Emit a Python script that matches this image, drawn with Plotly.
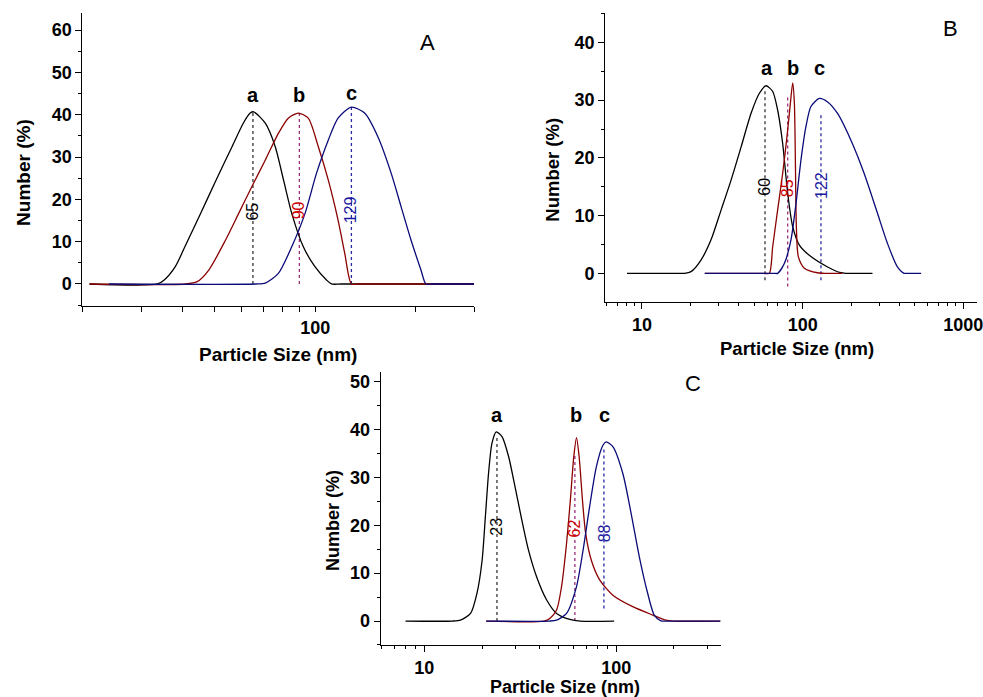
import numpy as np
import plotly.graph_objects as go

# ---------------- data ----------------
# Panel A
A_a_x = [21, 33.6, 35.2, 38.0, 40.6, 45.3, 50.4, 56.3, 60.8, 63.8, 65.3, 70.8, 75.8, 80.3, 85.0, 92.1, 99.8, 108.1, 111.9, 120, 300]
A_a_y = [0, 0, 0.95, 4.1, 8.8, 16.7, 24.6, 32.5, 38.0, 40.4, 40.7, 38.0, 32.5, 24.6, 16.7, 8.8, 4.1, 0.95, 0, 0, 0]
A_b_x = [21, 40.8, 44.2, 47.9, 53.8, 58.9, 64.5, 70.8, 77.5, 83.0, 89.0, 95.3, 102.1, 109.4, 117.1, 122.6, 128.4, 135, 300]
A_b_y = [0, 0, 0.55, 3.3, 10.4, 16.7, 23.0, 29.3, 35.6, 39.2, 40.4, 39.2, 32.5, 24.6, 15.1, 7.3, 0, 0, 0]
A_c_x = [24, 66, 70.8, 77.5, 85.0, 93.2, 100.9, 109.4, 117.1, 128.4, 140.7, 154.2, 169.0, 181.0, 193.9, 207.7, 214.9, 225, 300]
A_c_y = [0, 0, 0.2, 2.5, 8.8, 16.7, 26.2, 34.0, 39.2, 41.8, 40.4, 34.8, 26.2, 18.3, 10.4, 3.3, 0, 0, 0]
A_peak_x = [65, 89.6, 128.4]
A_peak_top = [40.7, 40.4, 41.8]
A_peak_bottom = [0, 0, 0]
A_peak_text = ["65", "90", "129"]

# Panel B
B_a_x = [8.07, 17, 18.4, 20.2, 23.3, 26.9, 31.1, 35.9, 41.4, 47.7, 53.8, 59.2, 65.1, 69.9, 75.1, 80.7, 86.7, 95.4, 112.6, 143.0, 173.0, 185, 272]
B_a_y = [0, 0, 0, 0.3, 2.3, 5.8, 11.0, 16.2, 21.9, 27.7, 31.2, 32.5, 31.5, 28.3, 22.5, 13.9, 8.1, 4.9, 2.9, 1.1, 0.1, 0, 0]
B_b_x = [24.6, 58, 62.1, 65.1, 69.9, 75.1, 79.9, 83.9, 86.7, 88.8, 90.1, 91.4, 94.0, 102.5, 123.9, 140, 177]
B_b_y = [0, 0, 0, 4.6, 11.0, 17.3, 23.7, 29.5, 33.0, 29.5, 19.6, 8.1, 2.9, 0.9, 0.1, 0, 0]
B_c_x = [24.6, 66, 69.9, 76.9, 84.6, 90.9, 97.6, 104.8, 112.6, 126.9, 143.0, 164.9, 199.4, 241.5, 292.2, 337, 389, 428, 450, 546]
B_c_y = [0, 0, 0, 1.7, 5.8, 12.1, 19.6, 25.4, 28.9, 30.3, 29.7, 27.7, 23.1, 17.3, 10.4, 5.2, 1.1, 0, 0, 0]
B_peak_x = [58.3, 80.7, 130]
B_peak_top = [31.8, 31.0, 27.7]
B_peak_bottom = [-1.2, -2.3, -1.2]
B_peak_text = ["60", "85", "122"]

# Panel C
C_a_x = [7.97, 14, 15.4, 17.4, 18.8, 20.0, 20.8, 21.6, 22.5, 23.7, 25.4, 27.5, 29.7, 32.2, 34.9, 38.5, 43.4, 48.9, 57.3, 65, 97.6]
C_a_y = [0, 0, 0.2, 1.6, 5.8, 12.7, 21.8, 30.8, 37.1, 39.5, 38.5, 34.3, 28.0, 21.1, 14.8, 9.2, 4.4, 1.6, 0.35, 0, 0]
C_b_x = [21, 42, 45.1, 48.9, 51.9, 55.1, 57.7, 60.1, 62.1, 64.1, 66.7, 69.3, 74.2, 82.0, 96.1, 122, 155, 181, 200, 350]
C_b_y = [0, 0, 0.55, 2.3, 7.2, 16.2, 25.3, 34.3, 38.3, 34.3, 25.3, 18.3, 12.7, 8.6, 5.4, 3.0, 1.25, 0.2, 0, 0]
C_c_x = [21, 45, 48.9, 55.1, 62.1, 67.2, 72.7, 78.8, 85.3, 88.7, 96.1, 108.3, 119.6, 132.0, 145.9, 157.9, 171.1, 185, 350]
C_c_y = [0, 0, 0.2, 1.6, 7.2, 14.8, 23.9, 32.2, 36.7, 37.4, 36.4, 30.8, 22.5, 13.4, 5.8, 1.25, 0.05, 0, 0]
C_peak_x = [23.9, 60.9, 86.3]
C_peak_top = [38.5, 35.0, 35.8]
C_peak_bottom = [0, 0, 2.6]
C_peak_text = ["23", "62", "88"]

curve_letters = ["a", "b", "c"]
A_letter_x = [65, 89.6, 128.4]; A_letter_y = [44.7, 44.7, 45.2]
B_letter_x = [59.8, 86.7, 126.9]; B_letter_y = [35.5, 35.5, 35.5]
C_letter_x = [23.9, 62.1, 87.0]; C_letter_y = [43.0, 43.0, 43.0]
A_label_y = [17.1, 17.5, 17.5]
B_label_y = [15.0, 14.7, 15.3]
C_label_y = [19.7, 19.3, 18.3]

# ---------------- styling ----------------
LINE_COLORS = ["#000000", "#8b0000", "#0a0a78"]
DOT_COLORS = ["#333333", "#9b2d7a", "#2a2aa0"]
TEXT_COLORS = ["#000000", "#cc0000", "#1a1aa0"]
FONT = "Liberation Sans, Arial, sans-serif"

fig = go.Figure()

panels = [
    ("x", "y", [(A_a_x, A_a_y), (A_b_x, A_b_y), (A_c_x, A_c_y)], A_peak_x, A_peak_bottom, A_peak_top,
     A_peak_text, A_label_y, A_letter_x, A_letter_y),
    ("x2", "y2", [(B_a_x, B_a_y), (B_b_x, B_b_y), (B_c_x, B_c_y)], B_peak_x, B_peak_bottom, B_peak_top,
     B_peak_text, B_label_y, B_letter_x, B_letter_y),
    ("x3", "y3", [(C_a_x, C_a_y), (C_b_x, C_b_y), (C_c_x, C_c_y)], C_peak_x, C_peak_bottom, C_peak_top,
     C_peak_text, C_label_y, C_letter_x, C_letter_y),
]

annotations = []
for xa, ya, curves, px, pb, pt, ptext, ly, lx, lyy in panels:
    # dotted peak markers
    for i in range(3):
        fig.add_trace(go.Scatter(x=[px[i], px[i]], y=[pb[i], pt[i]], mode="lines",
                                 line=dict(color=DOT_COLORS[i], width=1.3, dash="dot"),
                                 xaxis=xa, yaxis=ya, showlegend=False, hoverinfo="skip"))
    for i, (cx, cy) in enumerate(curves):
        fig.add_trace(go.Scatter(x=cx, y=cy, mode="lines",
                                 line=dict(color=LINE_COLORS[i], width=1.3, shape="spline", smoothing=0.7),
                                 xaxis=xa, yaxis=ya, showlegend=False))
    for i in range(3):
        annotations.append(dict(x=np.log10(px[i]), y=ly[i], xref=xa, yref=ya, text=ptext[i],
                                showarrow=False, textangle=-90,
                                font=dict(family=FONT, size=16, color=TEXT_COLORS[i])))
        annotations.append(dict(x=np.log10(lx[i]), y=lyy[i], xref=xa, yref=ya, text=curve_letters[i],
                                showarrow=False,
                                font=dict(family=FONT, size=20, color="#000000", weight="bold")))

# panel letters
annotations.append(dict(x=np.log10(217), y=57, xref="x", yref="y", text="A", showarrow=False,
                        font=dict(family=FONT, size=22, color="#000")))
annotations.append(dict(x=np.log10(830), y=42.5, xref="x2", yref="y2", text="B", showarrow=False,
                        font=dict(family=FONT, size=22, color="#000")))
annotations.append(dict(x=np.log10(250), y=49.7, xref="x3", yref="y3", text="C", showarrow=False,
                        font=dict(family=FONT, size=22, color="#000")))

# axis titles
for tx, ty, sz in [(0.2848, 0.4907, 19), (0.8159, 0.5007, 18.5), (0.5788, 0.0143, 18)]:
    annotations.append(dict(x=tx, y=ty, xref="paper", yref="paper", text="Particle Size (nm)",
                            showarrow=False, xanchor="center", yanchor="middle",
                            font=dict(family=FONT, size=sz, color="#000", weight="bold")))
for tx, ty, sz in [(0.0234, 0.7532, 19), (0.5646, 0.756, 18.5), (0.3408, 0.254, 18)]:
    annotations.append(dict(x=tx, y=ty, xref="paper", yref="paper", text="Number (%)",
                            showarrow=False, textangle=-90, xanchor="center", yanchor="middle",
                            font=dict(family=FONT, size=sz, color="#000", weight="bold")))

tickfont = dict(family=FONT, size=18, color="#000", weight="bold")
common_x = dict(type="log", showline=True, linecolor="#000", linewidth=1.2, ticks="outside",
                tickcolor="#000", showgrid=False, zeroline=False, tickfont=tickfont,
                ticklabeloverflow="allow")
common_y = dict(showline=True, linecolor="#000", linewidth=1.2, ticks="outside", ticklen=6,
                tickcolor="#000", showgrid=False, zeroline=False, tickfont=tickfont,
                dtick=10, tick0=0,
                minor=dict(dtick=5, tick0=0, ticks="outside", ticklen=3, tickcolor="#000", showgrid=False))

A_ticks = [20, 30, 40, 50, 60, 70, 80, 90, 100, 200, 300]
A_ticktext = ["" if t != 100 else "100" for t in A_ticks]
minor_log = [6, 7, 8, 9, 20, 30, 40, 50, 60, 70, 80, 90, 200, 300, 400, 500, 600, 700, 800, 900]

fig.update_layout(
    width=983, height=697, margin=dict(l=0, r=0, t=0, b=0),
    paper_bgcolor="white", plot_bgcolor="white",
    xaxis=dict(common_x, domain=[0.0844, 0.4853], anchor="y", range=[np.log10(20), np.log10(300)],
               tickmode="array", tickvals=A_ticks, ticktext=A_ticktext, ticklen=5),
    yaxis=dict(common_y, domain=[0.561, 0.981], anchor="x", range=[-5.2, 64]),
    xaxis2=dict(common_x, domain=[0.6195, 1.0], anchor="y2", range=[0.7716, 3.085],
                tickmode="array", tickvals=[10, 100, 1000], ticktext=["10", "100", "1000"], ticklen=6,
                minor=dict(tickmode="array", tickvals=minor_log, ticks="outside", ticklen=3,
                           tickcolor="#000", showgrid=False)),
    yaxis2=dict(common_y, domain=[0.5667, 0.9813], anchor="x2", range=[-4.97, 45.1]),
    xaxis3=dict(common_x, domain=[0.3896, 0.7375], anchor="y3", range=[0.772, 2.544],
                tickmode="array", tickvals=[10, 100], ticktext=["10", "100"], ticklen=6,
                minor=dict(tickmode="array", tickvals=minor_log[:14], ticks="outside", ticklen=3,
                           tickcolor="#000", showgrid=False)),
    yaxis3=dict(common_y, domain=[0.0746, 0.4663], anchor="x3", range=[-5.0, 52.0]),
    annotations=annotations,
)

fig.write_html("out.html", config={"displayModeBar": False},
               post_script="document.body.style.margin='0';document.body.style.overflow='hidden';")
